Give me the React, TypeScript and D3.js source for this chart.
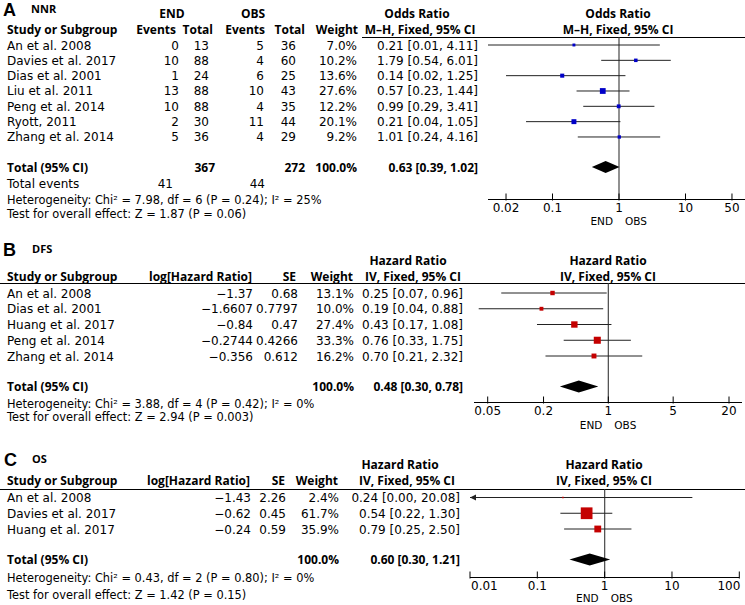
import React from "react";
import * as d3 from "d3";

const W = 745;
const H = 605;
const FONT = "'DejaVu Sans', Verdana, sans-serif";
const BOLD_FONT = "'Open Sans', 'Noto Sans', sans-serif";
const LETTER_FONT = "'Liberation Sans', Arial, sans-serif";

// ---------- Panel A: NNR (Odds Ratio) ----------
const studiesA = ["An et al. 2008", "Davies et al. 2017", "Dias et al. 2001", "Liu et al. 2011", "Peng et al. 2014", "Ryott, 2011", "Zhang et al. 2014"];
const endEventsA = [0, 10, 1, 13, 10, 2, 5];
const endTotalA = [13, 88, 24, 88, 88, 30, 36];
const obsEventsA = [5, 4, 6, 10, 4, 11, 4];
const obsTotalA = [36, 60, 25, 43, 35, 44, 29];
const weightA = [7.0, 10.2, 13.6, 27.6, 12.2, 20.1, 9.2];
const orA = [0.21, 1.79, 0.14, 0.57, 0.99, 0.21, 1.01];
const lowA = [0.01, 0.54, 0.02, 0.23, 0.29, 0.04, 0.24];
const highA = [4.11, 6.01, 1.25, 1.44, 3.41, 1.05, 4.16];
const totalA = { endTotal: 367, obsTotal: 272, endEvents: 41, obsEvents: 44, est: 0.63, lo: 0.39, hi: 1.02 };
const hetA = ["7.98", "6", "0.24", "25%"];
const testA = ["1.87", "0.06"];
const ticksA = [0.02, 0.1, 1, 10, 50];
const tickLabelsA = ["0.02", "0.1", "1", "10", "50"];

// ---------- Panel B: DFS (Hazard Ratio) ----------
const studiesB = ["An et al. 2008", "Dias et al. 2001", "Huang et al. 2017", "Peng et al. 2014", "Zhang et al. 2014"];
const logHRB = ["-1.37", "-1.6607", "-0.84", "-0.2744", "-0.356"];
const seB = ["0.68", "0.7797", "0.47", "0.4266", "0.612"];
const weightB = [13.1, 10.0, 27.4, 33.3, 16.2];
const hrB = [0.25, 0.19, 0.43, 0.76, 0.70];
const lowB = [0.07, 0.04, 0.17, 0.33, 0.21];
const highB = [0.96, 0.88, 1.08, 1.75, 2.32];
const totalB = { est: 0.48, lo: 0.30, hi: 0.78 };
const hetB = ["3.88", "4", "0.42", "0%"];
const testB = ["2.94", "0.003"];
const ticksB = [0.05, 0.2, 1, 5, 20];
const tickLabelsB = ["0.05", "0.2", "1", "5", "20"];

// ---------- Panel C: OS (Hazard Ratio) ----------
const studiesC = ["An et al. 2008", "Davies et al. 2017", "Huang et al. 2017"];
const logHRC = ["-1.43", "-0.62", "-0.24"];
const seC = ["2.26", "0.45", "0.59"];
const weightC = [2.4, 61.7, 35.9];
const hrC = [0.24, 0.54, 0.79];
const lowC = [0.0, 0.22, 0.25];
const highC = [20.08, 1.30, 2.50];
const totalC = { est: 0.60, lo: 0.30, hi: 1.21 };
const hetC = ["0.43", "2", "0.80", "0%"];
const testC = ["1.42", "0.15"];
const ticksC = [0.01, 0.1, 1, 10, 100];
const tickLabelsC = ["0.01", "0.1", "1", "10", "100"];

const BLUE = "#0000c8";
const RED = "#c40000";

const f2 = (v: number) => v.toFixed(2);
const ciText = (e: number, l: number, h: number) => `${f2(e)} [${f2(l)}, ${f2(h)}]`;
const minus = (s: string) => s.replace("-", "\u2212");

type TProps = { x: number; y: number; anchor?: "start" | "middle" | "end"; bold?: boolean; size?: number; children: React.ReactNode; family?: string };
function T({ x, y, anchor = "start", bold = false, size, children, family }: TProps) {
  const fam = family ?? (bold ? BOLD_FONT : FONT);
  const sz = size ?? 12;
  return (
    <text x={x} y={y} textAnchor={anchor} fontWeight={bold ? "bold" : "normal"} fontSize={sz} fontFamily={fam} fill="#000">
      {children}
    </text>
  );
}

type PlotProps = {
  scale: d3.ScaleLogarithmic<number, number>;
  rowY: number[];
  est: number[];
  lo: number[];
  hi: number[];
  sizes: number[];
  color: string;
  total: { est: number; lo: number; hi: number };
  totalY: number;
  lineTop: number;
  axisY: number;
  axisX0: number;
  axisX1: number;
  ticks: number[];
  tickLabels: string[];
  tickY: number;
  endObsY: number;
  edgeLabels?: boolean;
};

function ForestPlot(p: PlotProps) {
  const { scale } = p;
  const x1 = scale(1);
  const dh = 6;
  return (
    <g>
      <line x1={x1} x2={x1} y1={p.lineTop} y2={p.axisY} stroke="#555" strokeWidth={1.3} />
      {p.rowY.map((y, i) => {
        const loX = p.lo[i] > 0 ? Math.max(scale(p.lo[i]), p.axisX0) : p.axisX0;
        const hiX = Math.min(scale(p.hi[i]), p.axisX1);
        const arrow = p.lo[i] <= 0;
        const s = p.sizes[i];
        const cx = scale(p.est[i]);
        return (
          <g key={i}>
            <line x1={loX} x2={hiX} y1={y} y2={y} stroke="#222" strokeWidth={1} />
            {arrow && <path d={`M${p.axisX0},${y} L${p.axisX0 + 6},${y - 3} L${p.axisX0 + 6},${y + 3} Z`} fill="#222" />}
            <rect x={cx - s / 2} y={y - s / 2} width={s} height={s} fill={p.color} />
          </g>
        );
      })}
      <path
        d={`M${scale(p.total.lo)},${p.totalY} L${scale(p.total.est)},${p.totalY - dh} L${scale(p.total.hi)},${p.totalY} L${scale(p.total.est)},${p.totalY + dh} Z`}
        fill="#000"
      />
      <line x1={p.axisX0} x2={p.axisX1} y1={p.axisY} y2={p.axisY} stroke="#000" strokeWidth={1} />
      {p.ticks.map((t, i) => {
        const tx = scale(t);
        let anchor: "start" | "middle" | "end" = "middle";
        let lx = tx;
        if (p.edgeLabels && i === 0) { anchor = "start"; lx = tx + 1; }
        if (p.edgeLabels && i === p.ticks.length - 1) { anchor = "end"; lx = tx + 1; }
        return (
          <g key={t}>
            <line x1={tx} x2={tx} y1={p.axisY - 6} y2={p.axisY + 1} stroke="#000" strokeWidth={1} />
            <T x={lx} y={p.tickY} anchor={anchor}>{p.tickLabels[i]}</T>
          </g>
        );
      })}
      <T x={x1 - 6} y={p.endObsY} anchor="end" size={10.5}>END</T>
      <T x={x1 + 6} y={p.endObsY} anchor="start" size={10.5}>OBS</T>
    </g>
  );
}

function Het({ y, v }: { y: number; v: string[] }) {
  return <T x={7} y={y} size={11.4}>{`Heterogeneity: Chi\u00B2 = ${v[0]}, df = ${v[1]} (P = ${v[2]}); I\u00B2 = ${v[3]}`}</T>;
}
function Test({ y, v }: { y: number; v: string[] }) {
  return <T x={7} y={y} size={11.4}>{`Test for overall effect: Z = ${v[0]} (P = ${v[1]})`}</T>;
}

function PanelA() {
  const scale = d3.scaleLog().domain([0.01, 100]).range([486, 752]);
  const rowY = studiesA.map((_, i) => 45 + i * 15.33);
  const sizes = weightA.map((w) => 1.1 * Math.sqrt(w));
  return (
    <g>
      <T x={3} y={16} bold size={18} family={LETTER_FONT}>A</T>
      <T x={31} y={13} bold size={11}>NNR</T>
      <T x={172} y={18} anchor="middle" bold>END</T>
      <T x={253} y={18} anchor="middle" bold>OBS</T>
      <T x={417} y={18} anchor="middle" bold>Odds Ratio</T>
      <T x={420} y={34} anchor="middle" bold>M–H, Fixed, 95% CI</T>
      <T x={618} y={18} anchor="middle" bold>Odds Ratio</T>
      <T x={618} y={34} anchor="middle" bold>M–H, Fixed, 95% CI</T>
      <T x={7} y={34} bold>Study or Subgroup</T>
      <T x={176} y={34} anchor="end" bold>Events</T>
      <T x={213} y={34} anchor="end" bold>Total</T>
      <T x={265} y={34} anchor="end" bold>Events</T>
      <T x={305} y={34} anchor="end" bold>Total</T>
      <T x={358} y={34} anchor="end" bold>Weight</T>
      <line x1={362} x2={W} y1={37.5} y2={37.5} stroke="#000" strokeWidth={1} />
      {studiesA.map((s, i) => {
        const y = rowY[i] + 4.5;
        return (
          <g key={s}>
            <T x={7} y={y}>{s}</T>
            <T x={179} y={y} anchor="end">{endEventsA[i]}</T>
            <T x={209} y={y} anchor="end">{endTotalA[i]}</T>
            <T x={264} y={y} anchor="end">{obsEventsA[i]}</T>
            <T x={296} y={y} anchor="end">{obsTotalA[i]}</T>
            <T x={357} y={y} anchor="end">{weightA[i].toFixed(1) + "%"}</T>
            <T x={478} y={y} anchor="end">{ciText(orA[i], lowA[i], highA[i])}</T>
          </g>
        );
      })}
      <T x={7} y={171.5} bold>Total (95% CI)</T>
      <T x={215} y={171.5} anchor="end" bold>{totalA.endTotal}</T>
      <T x={305} y={171.5} anchor="end" bold>{totalA.obsTotal}</T>
      <T x={357} y={171.5} anchor="end" bold>100.0%</T>
      <T x={478} y={171.5} anchor="end" bold>{ciText(totalA.est, totalA.lo, totalA.hi)}</T>
      <T x={7} y={187.5}>Total events</T>
      <T x={173} y={187.5} anchor="end">{totalA.endEvents}</T>
      <T x={265} y={187.5} anchor="end">{totalA.obsEvents}</T>
      <Het y={204} v={hetA} />
      <Test y={218} v={testA} />
      <ForestPlot
        scale={scale} rowY={rowY} est={orA} lo={lowA} hi={highA} sizes={sizes} color={BLUE}
        total={totalA} totalY={167} lineTop={37.5} axisY={199.5} axisX0={488} axisX1={W}
        ticks={ticksA} tickLabels={tickLabelsA} tickY={212} endObsY={225}
      />
    </g>
  );
}

function PanelB() {
  const scale = d3.scaleLog().domain([0.05, 20]).range([487.7, 729]);
  const rowY = studiesB.map((_, i) => 293 + i * 15.75);
  const sizes = weightB.map((w) => 1.22 * Math.sqrt(w));
  return (
    <g>
      <T x={3} y={256} bold size={18} family={LETTER_FONT}>B</T>
      <T x={32} y={253} bold size={11}>DFS</T>
      <T x={408} y={265} anchor="middle" bold>Hazard Ratio</T>
      <T x={413} y={281} anchor="middle" bold>IV, Fixed, 95% CI</T>
      <T x={608} y={265} anchor="middle" bold>Hazard Ratio</T>
      <T x={608} y={281} anchor="middle" bold>IV, Fixed, 95% CI</T>
      <T x={7} y={281} bold>Study or Subgroup</T>
      <T x={252} y={281} anchor="end" bold>log[Hazard Ratio]</T>
      <T x={296} y={281} anchor="end" bold>SE</T>
      <T x={353} y={281} anchor="end" bold>Weight</T>
      <line x1={0} x2={W} y1={283.5} y2={283.5} stroke="#000" strokeWidth={1} />
      {studiesB.map((s, i) => {
        const y = rowY[i] + 4.5;
        return (
          <g key={s}>
            <T x={7} y={y}>{s}</T>
            <T x={253} y={y} anchor="end">{minus(logHRB[i])}</T>
            <T x={298} y={y} anchor="end">{seB[i]}</T>
            <T x={354} y={y} anchor="end">{weightB[i].toFixed(1) + "%"}</T>
            <T x={463} y={y} anchor="end">{ciText(hrB[i], lowB[i], highB[i])}</T>
          </g>
        );
      })}
      <T x={7} y={390.5} bold>Total (95% CI)</T>
      <T x={354} y={390.5} anchor="end" bold>100.0%</T>
      <T x={463} y={390.5} anchor="end" bold>{ciText(totalB.est, totalB.lo, totalB.hi)}</T>
      <Het y={408} v={hetB} />
      <Test y={421} v={testB} />
      <ForestPlot
        scale={scale} rowY={rowY} est={hrB} lo={lowB} hi={highB} sizes={sizes} color={RED}
        total={totalB} totalY={386.5} lineTop={283.5} axisY={402.5} axisX0={474} axisX1={742}
        ticks={ticksB} tickLabels={tickLabelsB} tickY={415} endObsY={429}
      />
    </g>
  );
}

function PanelC() {
  const scale = d3.scaleLog().domain([0.01, 100]).range([470, 739.3]);
  const rowY = studiesC.map((_, i) => 497.5 + i * 15.75);
  const sizes = weightC.map((w) => Math.max(1.5, 0.19 * w));
  return (
    <g>
      <T x={4} y={466} bold size={18} family={LETTER_FONT}>C</T>
      <T x={32} y={463} bold size={11}>OS</T>
      <T x={400} y={469} anchor="middle" bold>Hazard Ratio</T>
      <T x={407} y={485} anchor="middle" bold>IV, Fixed, 95% CI</T>
      <T x={604} y={469} anchor="middle" bold>Hazard Ratio</T>
      <T x={604} y={485} anchor="middle" bold>IV, Fixed, 95% CI</T>
      <T x={7} y={485} bold>Study or Subgroup</T>
      <T x={250} y={485} anchor="end" bold>log[Hazard Ratio]</T>
      <T x={285} y={485} anchor="end" bold>SE</T>
      <T x={338} y={485} anchor="end" bold>Weight</T>
      <line x1={0} x2={W} y1={489.5} y2={489.5} stroke="#000" strokeWidth={1} />
      {studiesC.map((s, i) => {
        const y = rowY[i] + 4.5;
        return (
          <g key={s}>
            <T x={7} y={y}>{s}</T>
            <T x={251} y={y} anchor="end">{minus(logHRC[i])}</T>
            <T x={286} y={y} anchor="end">{seC[i]}</T>
            <T x={339} y={y} anchor="end">{weightC[i].toFixed(1) + "%"}</T>
            <T x={460} y={y} anchor="end">{ciText(hrC[i], lowC[i], highC[i])}</T>
          </g>
        );
      })}
      <T x={7} y={563.5} bold>Total (95% CI)</T>
      <T x={339} y={563.5} anchor="end" bold>100.0%</T>
      <T x={460} y={563.5} anchor="end" bold>{ciText(totalC.est, totalC.lo, totalC.hi)}</T>
      <Het y={582} v={hetC} />
      <Test y={599} v={testC} />
      <ForestPlot
        scale={scale} rowY={rowY} est={hrC} lo={lowC} hi={highC} sizes={sizes} color={RED}
        total={totalC} totalY={559.5} lineTop={489.5} axisY={577.5} axisX0={470} axisX1={739.3}
        ticks={ticksC} tickLabels={tickLabelsC} tickY={590} endObsY={602} edgeLabels
      />
    </g>
  );
}

export default function App() {
  return (
    <div style={{ position: "absolute", left: 0, top: 0, width: W, height: H, background: "#fff" }}>
      <svg width={W} height={H} viewBox={`0 0 ${W} ${H}`} style={{ display: "block" }}>
        <rect x={0} y={0} width={W} height={H} fill="#fff" />
        <PanelA />
        <PanelB />
        <PanelC />
      </svg>
    </div>
  );
}
